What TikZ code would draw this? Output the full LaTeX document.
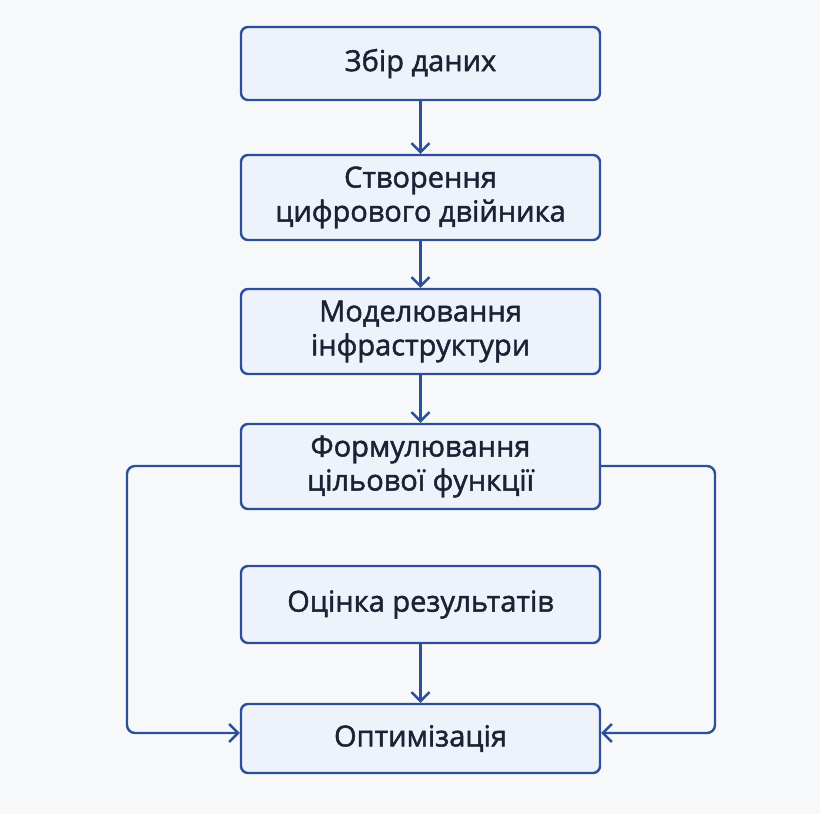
\documentclass[tikz,border=0pt]{standalone}
\usepackage{fontspec}
\setmainfont{Open Sans}
\newfontfamily\boxfont[FakeBold=1.6]{Open Sans}
\usetikzlibrary{arrows.meta}
\definecolor{bg}{HTML}{F7F8FA}
\definecolor{stroke}{HTML}{2B4F98}
\definecolor{boxfill}{HTML}{EEF2FB}
\definecolor{txt}{HTML}{1B2233}
\tikzset{
  stepbox/.style={draw=stroke, fill=boxfill, line width=2.4pt, rounded corners=7pt,
    minimum width=359pt, align=center, text=txt, font=\boxfont\fontsize{29}{34}\selectfont, inner sep=0pt},
  conn/.style={draw=stroke, line width=2.4pt, -{Straight Barb[length=9pt,width=18pt,line width=2.4pt]}, rounded corners=8pt}
}
\begin{document}
\begin{tikzpicture}[x=1pt,y=-1pt]
\fill[bg] (0,0) rectangle (820,814);
\useasboundingbox (0,0) rectangle (820,814);
\node[stepbox, minimum height=73pt] (a) at (420.5,63.5) {Збір даних};
\node[stepbox, minimum height=85pt] (b) at (420.5,197.5) {Створення\\цифрового двійника};
\node[stepbox, minimum height=85pt] (c) at (420.5,331.5) {Моделювання\\інфраструктури};
\node[stepbox, minimum height=85pt] (d) at (420.5,466.5) {Формулювання\\цільової функції};
\node[stepbox, minimum height=77pt] (e) at (420.5,604.5) {Оцінка результатів};
\node[stepbox, minimum height=69pt] (f) at (420.5,738.5) {Оптимізація};
\draw[conn] (a) -- (b);
\draw[conn] (b) -- (c);
\draw[conn] (c) -- (d);
\draw[conn] (e) -- (f);
\coordinate (l1) at (127,466);
\coordinate (l2) at (127,733);
\coordinate (r1) at (715,466);
\coordinate (r2) at (715,733);
\draw[conn] (d.west |- l1) -- (l1) -- (l2) -- (f.west |- l2);
\draw[conn] (d.east |- r1) -- (r1) -- (r2) -- (f.east |- r2);
\end{tikzpicture}
\end{document}
